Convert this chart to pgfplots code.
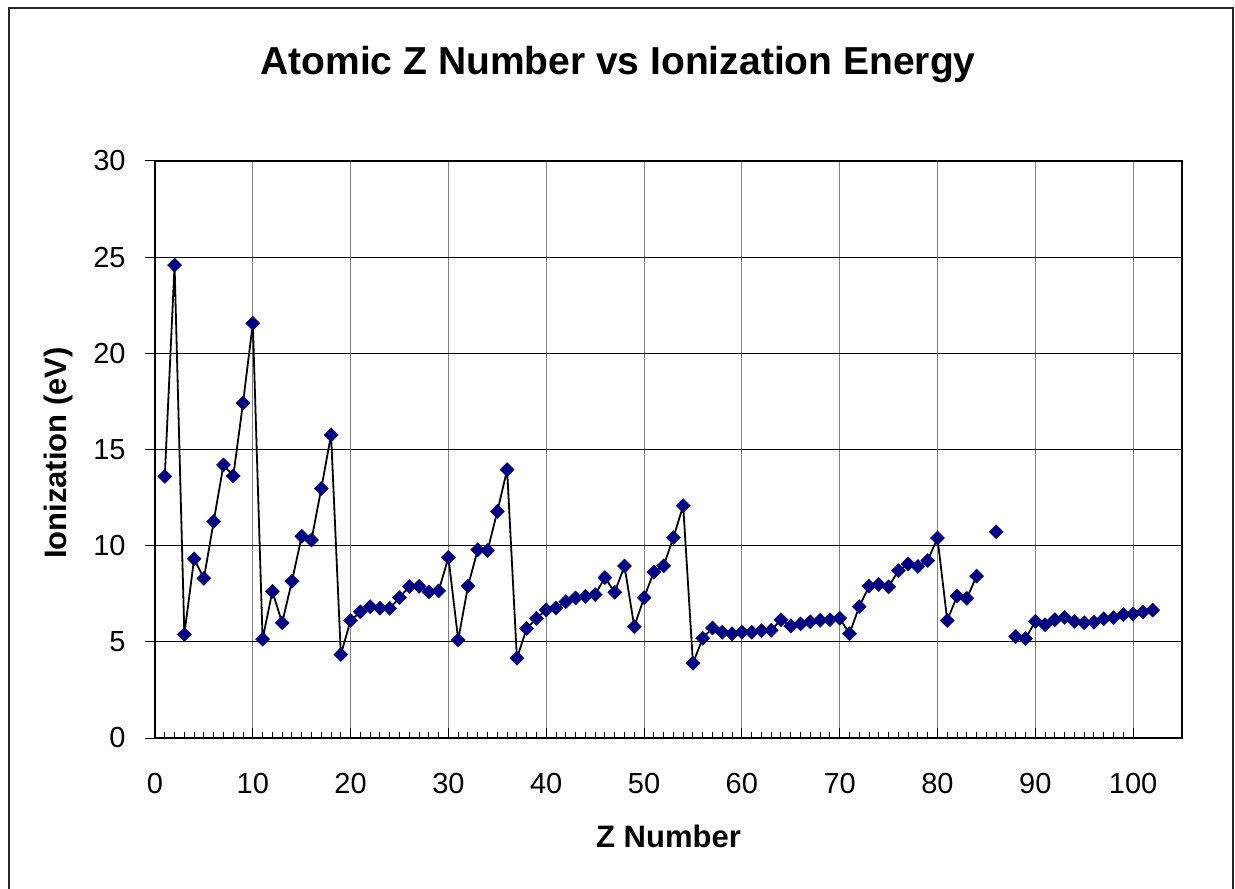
\documentclass[border=0pt]{standalone}
\usepackage{pgfplots}
\pgfplotsset{compat=1.18}
\usepackage{pgfplotstable}
\usepackage{fontspec}
\setmainfont{Liberation Sans}
\definecolor{navymark}{HTML}{000080}
\definecolor{vgrid}{HTML}{808080}

\pgfplotstableread{
z ie
1 13.60
2 24.59
3 5.39
4 9.32
5 8.30
6 11.26
7 14.20
8 13.62
9 17.42
10 21.56
11 5.14
12 7.62
13 5.99
14 8.15
15 10.49
16 10.30
17 12.97
18 15.76
19 4.34
20 6.11
21 6.56
22 6.83
23 6.75
24 6.74
25 7.30
26 7.88
27 7.88
28 7.60
29 7.65
30 9.39
31 5.10
32 7.90
33 9.79
34 9.75
35 11.78
36 13.95
37 4.15
38 5.69
39 6.22
40 6.66
41 6.76
42 7.09
43 7.28
44 7.36
45 7.46
46 8.34
47 7.58
48 8.94
49 5.79
50 7.30
51 8.63
52 8.95
53 10.42
54 12.08
55 3.89
56 5.19
57 5.72
58 5.50
59 5.42
60 5.50
61 5.50
62 5.58
63 5.60
64 6.15
65 5.82
66 5.93
67 6.04
68 6.12
69 6.15
70 6.23
71 5.42
72 6.83
73 7.89
74 7.98
75 7.86
76 8.70
77 9.05
78 8.92
79 9.23
80 10.40
81 6.11
82 7.38
83 7.26
84 8.42
85 nan
86 10.72
87 nan
88 5.28
89 5.17
90 6.06
91 5.89
92 6.15
93 6.27
94 6.06
95 5.99
96 6.02
97 6.20
98 6.25
99 6.42
100 6.45
101 6.55
102 6.65
}\iedata

\begin{document}
\begin{tikzpicture}
\useasboundingbox (0,0) rectangle (617.5pt,444pt);
% chart area border (bottom edge lies outside the picture)
\draw[line width=1pt, black!85] (4.3pt,-2pt) -- (4.3pt,439.8pt) -- (616.5pt,439.8pt) -- (616.5pt,-2pt);
\begin{axis}[
  at={(77.5pt,75pt)}, anchor=south west,
  scale only axis, width=513.5pt, height=288.5pt,
  xmin=0, xmax=105, ymin=0, ymax=30,
  xtick={0,10,...,100}, ytick={0,5,...,30},
  minor x tick num=9,
  tick pos=left,
  tick align=inside,
  major tick length=5pt, minor tick length=3pt,
  major y tick style={xshift=-5pt},
  every tick/.style={black, line width=0.5pt},
  grid=major,
  major x grid style={vgrid, line width=0.5pt},
  major y grid style={black, line width=0.5pt},
  axis line style={black, line width=1pt},
  /pgf/number format/assume math mode=true,
  tick label style={font=\fontsize{14.5}{17}\selectfont},
  yticklabel style={anchor=east, inner sep=0pt, xshift=-14.5pt},
  xticklabel style={anchor=north, inner sep=0pt, yshift=-17.5pt},
  unbounded coords=jump,
]
\addplot[black, line width=0.9pt, mark=square*, mark size=2.45pt,
  mark options={rotate=45, fill=navymark, draw=navymark, line width=0.3pt, solid}]
  table[x=z, y=ie] {\iedata};
\end{axis}
\node[anchor=base, font=\bfseries\fontsize{19.5}{23}\selectfont] at (309pt,406.5pt) {Atomic Z Number vs Ionization Energy};
\node[anchor=base, font=\bfseries\fontsize{15.5}{18}\selectfont] at (334.25pt,20.5pt) {Z Number};
\node[anchor=base, rotate=90, font=\bfseries\fontsize{15.5}{18}\selectfont] at (33pt,217.5pt) {Ionization (eV)};
\end{tikzpicture}
\end{document}
